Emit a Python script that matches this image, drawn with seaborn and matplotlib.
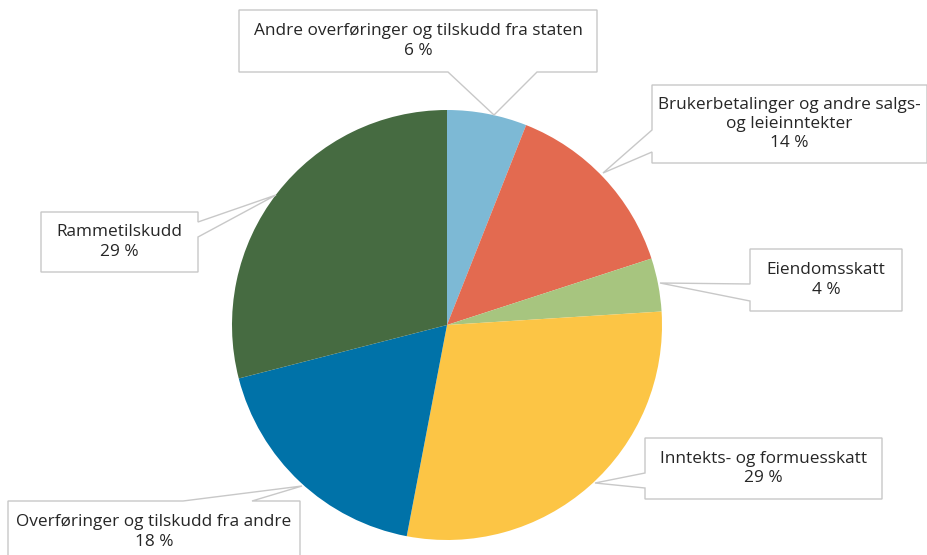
import matplotlib
matplotlib.use("Agg")
import matplotlib.pyplot as plt
from matplotlib.patches import Polygon
import seaborn as sns

# Data
labels = [
    "Andre overføringer og tilskudd fra staten",
    "Brukerbetalinger og andre salgs-\nog leieinntekter",
    "Eiendomsskatt",
    "Inntekts- og formuesskatt",
    "Overføringer og tilskudd fra andre",
    "Rammetilskudd",
]
shares = [6, 14, 4, 29, 18, 29]
colors = ["#7DB9D5", "#E36A50", "#A7C57F", "#FCC545", "#0072A8", "#466B41"]

# callout layout in pixels (from top-left): box, side of the pointer, pointer base, tip
boxes = [(239, 10, 597, 72), (652, 85, 927, 163), (750, 249, 902, 311),
         (645, 438, 882, 499), (8, 501, 300, 563), (41, 212, 198, 272)]
sides = ["bottom", "left", "left", "left", "top", "right"]
bases = [(448, 537), (130, 152), (284, 301), (473, 488), (183, 252), (222, 237)]
tips = [(494, 115), (603, 173), (660, 283), (595, 483), (302, 486), (276, 195)]

W, H = 928, 555
sns.set_theme(style="white")
plt.rcParams["font.family"] = ["Open Sans", "DejaVu Sans"]

fig = plt.figure(figsize=(W / 100, H / 100), dpi=100)
ax = fig.add_axes([0, 0, 1, 1])

ax.pie(shares, colors=colors, startangle=90, counterclock=False,
       center=(447, H - 325), radius=215,
       wedgeprops=dict(linewidth=0))
ax.set_xlim(0, W)
ax.set_ylim(0, H)
ax.set_aspect("equal")
ax.axis("off")


def callout(box, side, base, tip):
    x0, y0, x1, y1 = box
    a, b = base
    pts = [(x0, y0)]
    if side == "top":
        pts += [(a, y0), tip, (b, y0)]
    pts += [(x1, y0)]
    if side == "right":
        pts += [(x1, a), tip, (x1, b)]
    pts += [(x1, y1)]
    if side == "bottom":
        pts += [(b, y1), tip, (a, y1)]
    pts += [(x0, y1)]
    if side == "left":
        pts += [(x0, b), tip, (x0, a)]
    return [(x, H - y) for x, y in pts]


for lab, val, box, side, base, tip in zip(labels, shares, boxes, sides, bases, tips):
    ax.add_patch(Polygon(callout(box, side, base, tip), closed=True,
                         fc="white", ec="#C8C8C8", lw=1, zorder=3, clip_on=False))
    x0, y0, x1, y1 = box
    ax.text((x0 + x1) / 2, H - (y0 + y1) / 2, f"{lab}\n{val} %",
            ha="center", va="center", fontsize=12.4, color="#262626",
            linespacing=1.28, zorder=4)

fig.savefig("out.png", dpi=100)
